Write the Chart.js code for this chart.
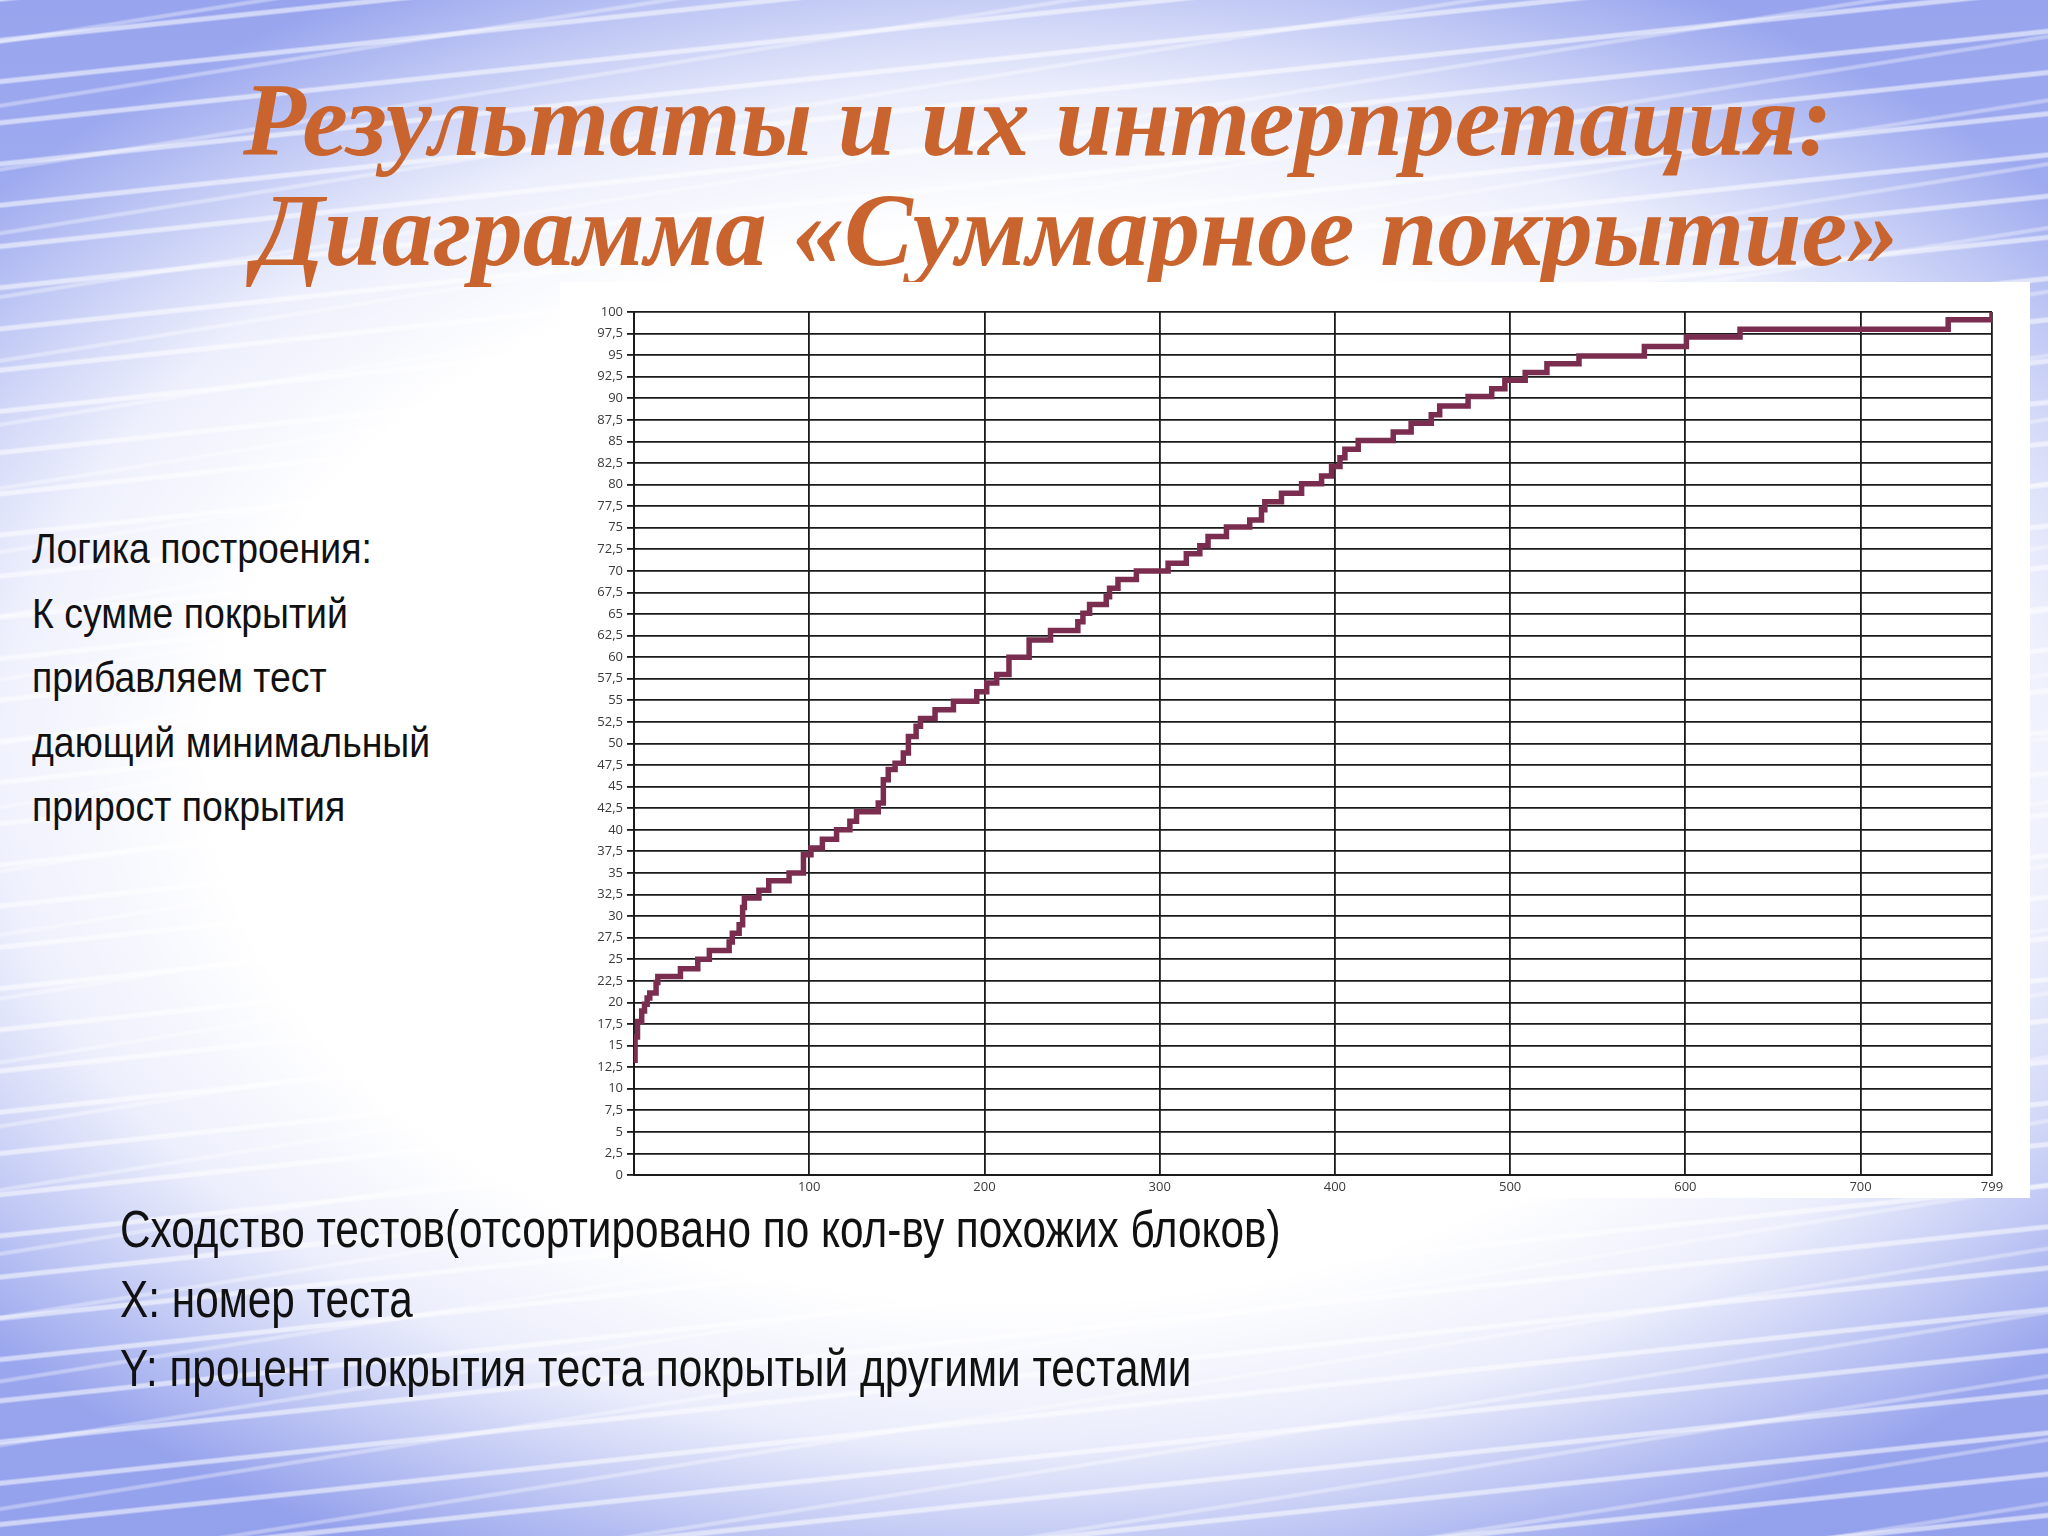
<!DOCTYPE html>
<html lang="ru">
<head>
<meta charset="utf-8">
<title>Суммарное покрытие</title>
<script src="https://cdn.jsdelivr.net/npm/chart.js@4"></script>
<style>
  html, body { margin: 0; padding: 0; }
  body {
    width: 2048px; height: 1536px; position: relative; overflow: hidden;
    background:
      radial-gradient(ellipse 66% 58% at 50% 50%, #ffffff 60%, rgba(255,255,255,0.8) 76%, rgba(255,255,255,0) 100%),
      repeating-linear-gradient(-6deg, rgba(255,255,255,0) 0 17px, rgba(255,255,255,0.55) 19px 22px, rgba(255,255,255,0) 24px 41px),
      repeating-linear-gradient(-9deg, rgba(255,255,255,0) 0 29px, rgba(255,255,255,0.35) 31px 33px, rgba(255,255,255,0) 35px 63px),
      linear-gradient(#98a5ee, #b2bcf4 50%, #93a0ec);
  }
  .title {
    position: absolute; margin: 0; white-space: nowrap;
    font-family: "Liberation Serif", "Times New Roman", serif;
    font-weight: bold; font-style: italic; font-size: 103px; line-height: 104px;
    color: #c9642f;
  }
  .side, .notes {
    position: absolute; margin: 0; white-space: nowrap; color: #111;
    font-family: "Liberation Sans Narrow", "Arial Narrow", "Liberation Sans", sans-serif;
    transform-origin: 0 0;
  }
  .side { left: 32px; top: 516px; font-size: 43px; line-height: 64.5px; transform: scaleX(0.87); }
  .notes { left: 120px; top: 1195px; font-size: 51px; line-height: 69.5px; transform: scaleX(0.83); }
  #panel {
    position: absolute; left: 560px; top: 282px; width: 1470px; height: 916px;
    background: #fff;
  }
</style>
</head>
<body>
<div class="title" style="left:243px; top:68px;">Результаты и их интерпретация:</div>
<div class="title" style="left:254px; top:178px;">Диаграмма «Суммарное покрытие»</div>

<div class="side">Логика построения:<br>К сумме покрытий<br>прибавляем тест<br>дающий минимальный<br>прирост покрытия</div>

<div id="panel"><canvas id="coverageChart" width="1470" height="916"></canvas></div>

<div class="notes">Сходство тестов(отсортировано по кол-ву похожих блоков)<br>X: номер теста<br>Y: процент покрытия теста покрытый другими тестами</div>

<script>
// test number where the summary coverage steps up, and the new value (%)
const stepX = [0, 0.6, 2, 4.4, 6, 7.5, 9, 12.6, 13.6, 26.5, 36.4, 43, 54.3, 56.1, 60, 62, 63,
  71.3, 76.9, 88.5, 96.7, 101, 107.5, 115.6, 123.2, 127, 139.4, 142.3, 145.1, 149, 153.7, 156.6,
  161, 163.5, 171.8, 182.3, 195.6, 201.3, 207, 214, 225.5, 237.7, 253.3, 256.2, 260, 269.5,
  271.4, 276.2, 286.7, 304.8, 315.2, 322.9, 327.6, 338.1, 351.4, 358.1, 360, 369.5, 381,
  392.4, 398.1, 402.9, 405.7, 413.3, 433.3, 443.5, 455, 459.8, 476, 489.5, 497, 508.6, 521,
  539.3, 576.6, 600.6, 631.2, 750, 775];
const coverage = [13.3, 16, 17.8, 19, 19.8, 20.5, 21.1, 22.3, 23, 23.9, 25, 26, 27, 28, 29, 31, 32.1,
  33, 34.1, 35, 37.1, 37.9, 38.9, 40, 41, 42.1, 43.1, 45.8, 47, 47.7, 48.9, 50.8,
  52, 52.9, 53.9, 54.9, 56, 57, 58, 60, 62, 63.1, 64.1, 65.1, 66.1, 67,
  68, 69, 70, 70.9, 72, 72.9, 74, 75.1, 75.9, 77.1, 78, 79, 80.1,
  81, 82.1, 83.1, 84.1, 85.1, 86.1, 87.1, 88.1, 89.1, 90.2, 91.1, 92.1, 93, 94,
  94.9, 96, 97.1, 98, 99.1, 100];

const xTickValues = [100, 200, 300, 400, 500, 600, 700, 775];
const xTickLabels = ['100', '200', '300', '400', '500', '600', '700', '799'];
const yMax = 100;
const yStep = 2.5;

const ctx = document.getElementById('coverageChart').getContext('2d');
const coverageChart = new Chart(ctx, {
    type: 'line',
    data: {
        datasets: [{
            data: stepX.map((x, i) => ({ x: x, y: coverage[i] })),
            stepped: 'before',
            borderColor: '#7b2d50',
            borderWidth: 5.5,
            borderJoinStyle: 'miter',
            pointRadius: 0,
            fill: false
        }]
    },
    options: {
        responsive: false,
        animation: false,
        devicePixelRatio: 1,
        layout: { padding: { left: 0, top: 30, right: 38, bottom: 0 } },
        plugins: { legend: { display: false }, tooltip: { enabled: false } },
        scales: {
            x: {
                type: 'linear',
                min: 0,
                max: xTickValues[xTickValues.length - 1],
                afterBuildTicks: scale => { scale.ticks = xTickValues.map(v => ({ value: v })); },
                afterFit: scale => { scale.height = 23; },
                ticks: {
                    autoSkip: false,
                    maxRotation: 0,
                    padding: 4,
                    color: '#3a3a3a',
                    font: { family: 'Open Sans', size: 13 },
                    callback: (v, i) => xTickLabels[i]
                },
                grid: { color: '#1a1a1a', lineWidth: 1.8, drawTicks: false },
                border: { color: '#1a1a1a', width: 2 }
            },
            y: {
                min: 0,
                max: yMax,
                afterFit: scale => { scale.width = 74; },
                ticks: {
                    stepSize: yStep,
                    padding: 4,
                    color: '#3a3a3a',
                    font: { family: 'Open Sans', size: 13 },
                    callback: v => String(v).replace('.', ',')
                },
                grid: { color: '#1a1a1a', lineWidth: 1.8, tickLength: 7 },
                border: { color: '#1a1a1a', width: 2 }
            }
        }
    }
});
</script>
</body>
</html>
